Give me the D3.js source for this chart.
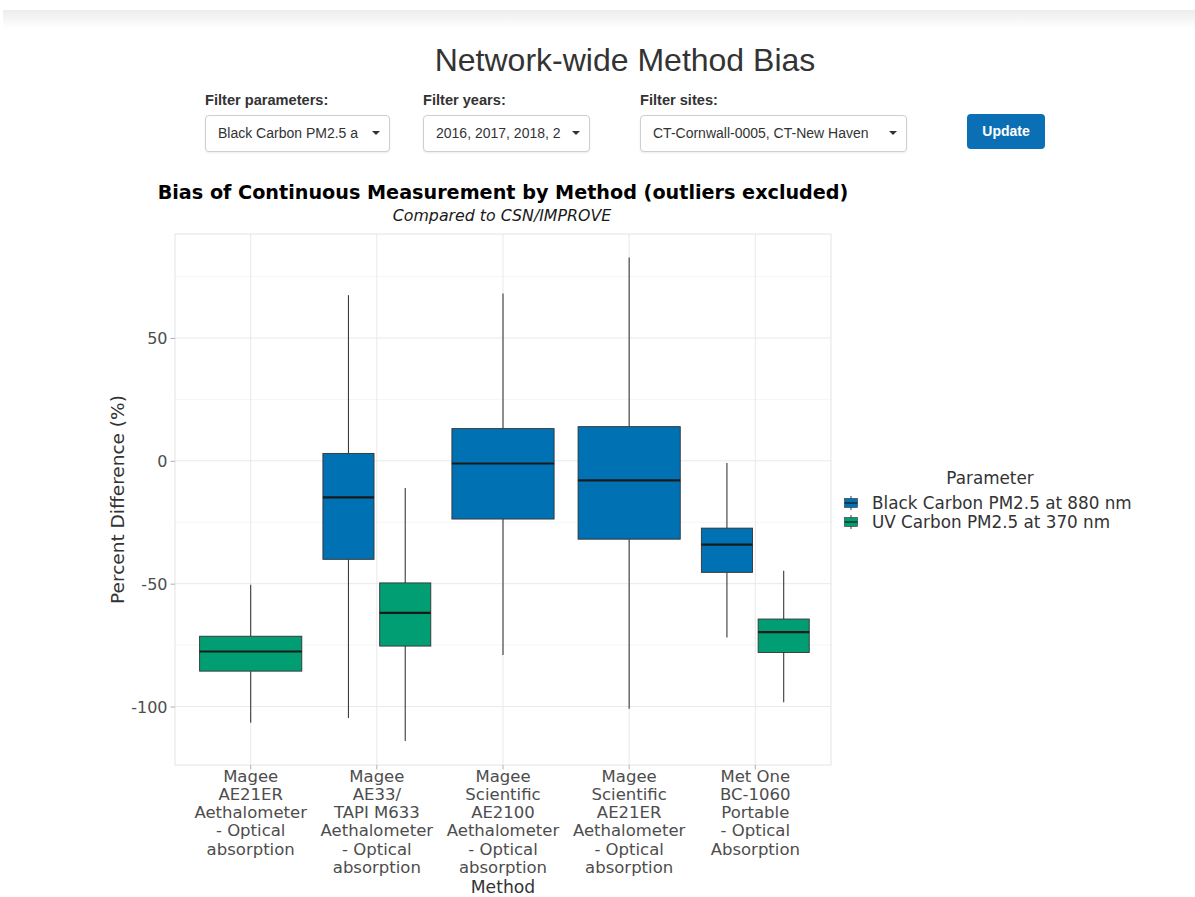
<!DOCTYPE html>
<html>
<head>
<meta charset="utf-8">
<script src="https://cdn.jsdelivr.net/npm/d3@7"></script>
<style>
  html, body { margin: 0; padding: 0; background: #fff; }
  body { width: 1195px; height: 897px; position: relative; overflow: hidden; font-family: "Liberation Sans", Arial, sans-serif; color: #333; }
  .topband { position: absolute; left: 3px; top: 10px; width: 1192px; height: 18px; background: linear-gradient(#ececec, #ffffff); }
  .pagetitle { position: absolute; left: 0; width: 1250px; top: 40px; text-align: center; font-size: 32px; color: #333; line-height: 40px; }
  .flabel { position: absolute; top: 92px; font-size: 14.6px; font-weight: bold; color: #333; }
  .dd { position: absolute; top: 115px; height: 37px; box-sizing: border-box; border: 1px solid #cfcfcf; border-radius: 4px; background: #fff; box-shadow: 0 1px 2px rgba(0,0,0,0.08); }
  .dd .txt { position: absolute; left: 12px; top: 0; line-height: 35px; font-size: 14px; white-space: nowrap; color: #333; }
  .dd .caret { position: absolute; top: 15px; width: 0; height: 0; border-left: 4px solid transparent; border-right: 4px solid transparent; border-top: 4px solid #333; }
  .btn { position: absolute; left: 967px; top: 114px; width: 78px; height: 35px; border-radius: 4px; background: #0b6fb5; color: #fff; font-weight: bold; font-size: 14px; text-align: center; line-height: 35px; }
  svg { position: absolute; left: 0; top: 0; }
</style>
</head>
<body>
<div class="topband"></div>
<div id="ui"></div>
<svg id="chart" width="1195" height="897"></svg>
<script>
// ---------------- data ----------------
const pageTitle = "Network-wide Method Bias";
const filterLabels = ["Filter parameters:", "Filter years:", "Filter sites:"];
// visible (truncated) text of each select box
const filterValues = [
  "Black Carbon PM2.5 a",
  "2016, 2017, 2018, 2",
  "CT-Cornwall-0005, CT-New Haven"
];
const buttonLabel = "Update";

const chartTitle = "Bias of Continuous Measurement by Method (outliers excluded)";
const chartSubtitle = "Compared to CSN/IMPROVE";
const yTitle = "Percent Difference (%)";
const xTitle = "Method";
const legendTitle = "Parameter";

const methods = [
  ["Magee", "AE21ER", "Aethalometer", "- Optical", "absorption"],
  ["Magee", "AE33/", "TAPI M633", "Aethalometer", "- Optical", "absorption"],
  ["Magee", "Scientific", "AE2100", "Aethalometer", "- Optical", "absorption"],
  ["Magee", "Scientific", "AE21ER", "Aethalometer", "- Optical", "absorption"],
  ["Met One", "BC-1060", "Portable", "- Optical", "Absorption"]
];
const parameters = ["Black Carbon PM2.5 at 880 nm", "UV Carbon PM2.5 at 370 nm"];
const paramColors = ["#0071b3", "#019e73"];

// box stats per method: [lower whisker, Q1, median, Q3, upper whisker]
const blackCarbonStats = [
  null,
  [-104.7, -40.1, -14.9, 3.0, 67.4],
  [-79.0, -23.7, -1.1, 13.1, 68.1],
  [-100.9, -31.9, -8.0, 13.9, 82.7],
  [-71.9, -45.4, -34.1, -27.4, -0.9]
];
const uvCarbonStats = [
  [-106.6, -85.6, -77.6, -71.4, -50.4],
  [-114.0, -75.4, -61.9, -49.7, -11.1],
  null,
  null,
  [-98.3, -78.0, -69.7, -64.4, -44.7]
];
const yTicks = [-100, -50, 0, 50];
const yTickLabels = ["-100", "-50", "0", "50"];
const yMinorTicks = [-75, -25, 25, 75];
const yDomain = [-123.8, 92.3];

// ---------------- UI ----------------
const ui = d3.select("#ui");
ui.append("div").attr("class", "pagetitle").text(pageTitle);
const ddPos = [
  {x: 205, w: 185},
  {x: 423, w: 167},
  {x: 640, w: 267}
];
filterLabels.forEach((l, i) => {
  ui.append("div").attr("class", "flabel").style("left", ddPos[i].x + "px").text(l);
  const dd = ui.append("div").attr("class", "dd")
    .style("left", ddPos[i].x + "px").style("width", ddPos[i].w + "px");
  dd.append("div").attr("class", "txt").text(filterValues[i]);
  dd.append("div").attr("class", "caret").style("left", (ddPos[i].w - 19) + "px");
});
ui.append("div").attr("class", "btn").text(buttonLabel);

// ---------------- chart ----------------
const svg = d3.select("#chart");
const panel = {left: 175, right: 831, top: 234, bottom: 765};
const font = "'DejaVu Sans', sans-serif";

const x = d3.scaleBand()
  .domain(methods.map(m => m.join(" ")))
  .range([panel.left, panel.right])
  .paddingInner(0)
  .paddingOuter(0.1);
const y = d3.scaleLinear().domain(yDomain).range([panel.bottom, panel.top]);

const g = svg.append("g");
g.append("rect").attr("x", panel.left).attr("y", panel.top)
  .attr("width", panel.right - panel.left).attr("height", panel.bottom - panel.top)
  .attr("fill", "#fff");
g.selectAll(".minor").data(yMinorTicks).join("line")
  .attr("x1", panel.left).attr("x2", panel.right)
  .attr("y1", d => y(d)).attr("y2", d => y(d))
  .attr("stroke", "#f3f3f3").attr("stroke-width", 0.8);
g.selectAll(".major").data(yTicks).join("line")
  .attr("x1", panel.left).attr("x2", panel.right)
  .attr("y1", d => y(d)).attr("y2", d => y(d))
  .attr("stroke", "#e9e9e9").attr("stroke-width", 1);
g.selectAll(".vgrid").data(x.domain()).join("line")
  .attr("x1", d => x(d) + x.bandwidth() / 2).attr("x2", d => x(d) + x.bandwidth() / 2)
  .attr("y1", panel.top).attr("y2", panel.bottom)
  .attr("stroke", "#e9e9e9").attr("stroke-width", 1);

// boxes (dodged with padding)
const boxes = [];
methods.forEach((m, i) => {
  const present = [];
  if (blackCarbonStats[i]) present.push({p: 0, s: blackCarbonStats[i]});
  if (uvCarbonStats[i]) present.push({p: 1, s: uvCarbonStats[i]});
  const key = m.join(" ");
  const groupW = x.bandwidth() * 0.9;
  const inner = d3.scaleBand().domain(d3.range(present.length))
    .range([x(key) + x.bandwidth() / 2 - groupW / 2, x(key) + x.bandwidth() / 2 + groupW / 2]);
  present.forEach((b, j) => {
    const cx = inner(j) + inner.bandwidth() / 2;
    boxes.push({cx, w: inner.bandwidth() * 0.9, p: b.p, s: b.s});
  });
});
const bg = g.selectAll(".box").data(boxes).join("g");
bg.append("line").attr("x1", d => d.cx).attr("x2", d => d.cx)
  .attr("y1", d => y(d.s[4])).attr("y2", d => y(d.s[3]))
  .attr("stroke", "#3a3a3a").attr("stroke-width", 1.1);
bg.append("line").attr("x1", d => d.cx).attr("x2", d => d.cx)
  .attr("y1", d => y(d.s[1])).attr("y2", d => y(d.s[0]))
  .attr("stroke", "#3a3a3a").attr("stroke-width", 1.1);
bg.append("rect").attr("x", d => d.cx - d.w / 2).attr("width", d => d.w)
  .attr("y", d => y(d.s[3])).attr("height", d => y(d.s[1]) - y(d.s[3]))
  .attr("fill", d => paramColors[d.p]).attr("stroke", "#333").attr("stroke-width", 0.9);
bg.append("line").attr("x1", d => d.cx - d.w / 2).attr("x2", d => d.cx + d.w / 2)
  .attr("y1", d => y(d.s[2])).attr("y2", d => y(d.s[2]))
  .attr("stroke", "#1a1a1a").attr("stroke-width", 2.2);

g.append("rect").attr("x", panel.left).attr("y", panel.top)
  .attr("width", panel.right - panel.left).attr("height", panel.bottom - panel.top)
  .attr("fill", "none").attr("stroke", "#e3e3e3").attr("stroke-width", 1);

// y axis
const yAxis = svg.append("g").attr("transform", `translate(${panel.left},0)`)
  .call(d3.axisLeft(y).tickValues(yTicks).tickSize(4.5).tickPadding(3)
    .tickFormat((d, i) => yTickLabels[i]));
yAxis.select(".domain").remove();
yAxis.selectAll(".tick line").attr("stroke", "#b0b0b0");
yAxis.selectAll(".tick text").attr("font-family", font).attr("font-size", 16).attr("fill", "#4d4d4d")
  .attr("dy", "0.36em");

// x axis
const xAxis = svg.append("g").attr("transform", `translate(0,${panel.bottom})`)
  .call(d3.axisBottom(x).tickSize(4.5).tickFormat(""));
xAxis.select(".domain").remove();
xAxis.selectAll(".tick line").attr("stroke", "#b0b0b0");
const xl = svg.append("g").selectAll("text").data(methods).join("text")
  .attr("font-family", font).attr("font-size", 16.5).attr("fill", "#4d4d4d")
  .attr("text-anchor", "middle");
xl.each(function(m) {
  const cx = x(m.join(" ")) + x.bandwidth() / 2;
  d3.select(this).selectAll("tspan").data(m).join("tspan")
    .attr("x", cx).attr("y", (d, i) => 776 + i * 18.3).attr("dominant-baseline", "central")
    .text(d => d);
});

// titles
svg.append("text").attr("x", 503).attr("y", 192).attr("text-anchor", "middle")
  .attr("dominant-baseline", "central").attr("font-family", font).attr("font-weight", "bold")
  .attr("font-size", 19.2).attr("fill", "#000").text(chartTitle);
svg.append("text").attr("x", 502).attr("y", 215).attr("text-anchor", "middle")
  .attr("dominant-baseline", "central").attr("font-family", font).attr("font-style", "italic")
  .attr("font-size", 15.8).attr("fill", "#1a1a1a").text(chartSubtitle);
svg.append("text").attr("transform", `translate(117,${(panel.top + panel.bottom) / 2}) rotate(-90)`)
  .attr("text-anchor", "middle").attr("dominant-baseline", "central")
  .attr("font-family", font).attr("font-size", 18.5).attr("fill", "#333").text(yTitle);
svg.append("text").attr("x", 503).attr("y", 887).attr("text-anchor", "middle")
  .attr("dominant-baseline", "central").attr("font-family", font).attr("font-size", 17.2)
  .attr("fill", "#333").text(xTitle);

// legend
const lg = svg.append("g");
lg.append("text").attr("x", 990).attr("y", 478).attr("text-anchor", "middle")
  .attr("dominant-baseline", "central").attr("font-family", font).attr("font-size", 16.8)
  .attr("fill", "#333").text(legendTitle);
const li = lg.selectAll(".li").data(parameters).join("g")
  .attr("transform", (d, i) => `translate(851,${503 + i * 19})`);
li.append("line").attr("x1", 0).attr("x2", 0).attr("y1", -7).attr("y2", 7)
  .attr("stroke", "#3a3a3a").attr("stroke-width", 1);
li.append("rect").attr("x", -6.5).attr("y", -4.5).attr("width", 13).attr("height", 9)
  .attr("fill", (d, i) => paramColors[i]).attr("stroke", "#333").attr("stroke-width", 0.6);
li.append("line").attr("x1", -6.5).attr("x2", 6.5).attr("y1", 0).attr("y2", 0)
  .attr("stroke", "#1a1a1a").attr("stroke-width", 1.2);
li.append("text").attr("x", 21).attr("y", 0).attr("dominant-baseline", "central")
  .attr("font-family", font).attr("font-size", 16.8).attr("fill", "#333").text(d => d);
</script>
</body>
</html>
